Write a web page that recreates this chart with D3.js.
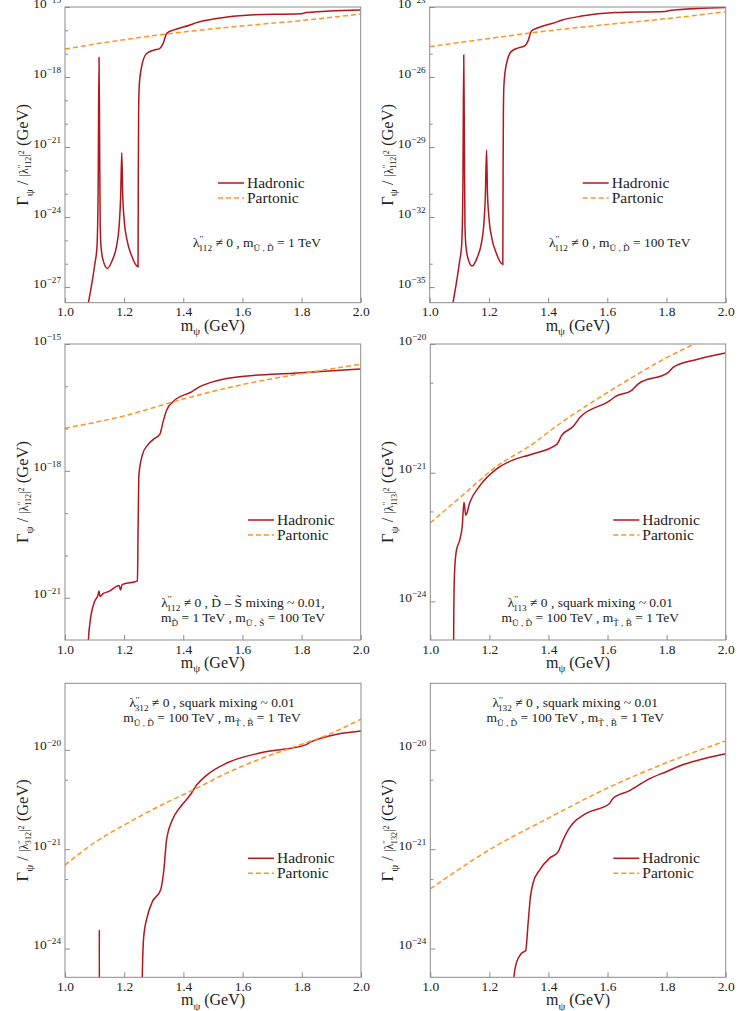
<!DOCTYPE html>
<html>
<head>
<meta charset="utf-8">
<script src="https://cdn.jsdelivr.net/npm/d3@7"></script>
<style>
  body { margin: 0; background: #fff; }
</style>
</head>
<body>
<script>
// mass axis, same for every panel
const massDomain = [1.0, 2.0];
const massTicks = [1.0, 1.2, 1.4, 1.6, 1.8, 2.0];

// curves as [m_psi (GeV), log10(Gamma / |lambda|^2 / GeV)]
const hadronic1 = [[1.074,-28.0],[1.101,-26.0],[1.108,-25.3],[1.112,-23.0],[1.115,-17.16],[1.117,-20.5],[1.119,-24.3],[1.122,-25.3],[1.13,-25.9],[1.143,-26.2],[1.16,-25.85],[1.175,-25.2],[1.183,-24.4],[1.188,-23.2],[1.192,-21.24],[1.195,-23.0],[1.2,-24.1],[1.21,-25.0],[1.225,-25.65],[1.247,-26.13],[1.248,-22.0],[1.249,-19.5],[1.251,-18.4],[1.259,-17.56],[1.276,-16.99],[1.3,-16.85],[1.321,-16.77],[1.332,-16.56],[1.344,-16.13],[1.366,-15.99],[1.423,-15.77],[1.445,-15.67],[1.513,-15.49],[1.626,-15.34],[1.795,-15.29],[1.817,-15.24],[2.0,-15.13]];
const partonic1 = [[1.0,-16.8],[1.2,-16.4],[1.4,-16.07],[1.6,-15.81],[1.8,-15.58],[2.0,-15.3]];

const hadronic2 = [[1.074,-36.0],[1.101,-33.9],[1.108,-33.2],[1.112,-30.9],[1.115,-25.06],[1.117,-28.4],[1.119,-32.3],[1.122,-33.2],[1.13,-33.8],[1.143,-34.1],[1.16,-33.75],[1.175,-33.1],[1.183,-32.3],[1.188,-31.1],[1.192,-29.13],[1.195,-30.9],[1.2,-32.0],[1.21,-32.9],[1.225,-33.55],[1.247,-34.03],[1.248,-29.9],[1.249,-27.4],[1.251,-26.3],[1.259,-25.46],[1.276,-24.9],[1.3,-24.75],[1.321,-24.67],[1.332,-24.46],[1.344,-24.03],[1.366,-23.89],[1.423,-23.67],[1.445,-23.57],[1.513,-23.39],[1.626,-23.24],[1.795,-23.19],[1.817,-23.14],[2.0,-23.02]];
const partonic2 = [[1.0,-24.7],[1.2,-24.35],[1.4,-24.02],[1.6,-23.75],[1.8,-23.5],[2.0,-23.2]];

const hadronic3 = [[1.077,-22.3],[1.08,-21.9],[1.085,-21.56],[1.1,-21.09],[1.111,-20.95],[1.115,-20.84],[1.118,-20.97],[1.13,-20.9],[1.149,-20.85],[1.183,-20.71],[1.188,-20.82],[1.193,-20.69],[1.245,-20.6],[1.247,-19.5],[1.25,-18.09],[1.262,-17.62],[1.279,-17.39],[1.3,-17.25],[1.321,-17.13],[1.332,-16.83],[1.344,-16.56],[1.366,-16.36],[1.428,-16.13],[1.456,-16.01],[1.513,-15.87],[1.626,-15.75],[1.772,-15.69],[2.0,-15.59]];
const partonic3 = [[1.0,-16.99],[1.2,-16.7],[1.4,-16.3],[1.6,-15.96],[1.8,-15.7],[2.0,-15.48]];

const hadronic4 = [[1.0785,-22.5],[1.0795,-22.1],[1.082,-21.78],[1.088,-21.61],[1.1,-21.52],[1.108,-21.42],[1.114,-21.23],[1.12,-21.33],[1.134,-21.23],[1.168,-21.1],[1.225,-20.97],[1.281,-20.9],[1.338,-20.86],[1.428,-20.78],[1.445,-20.71],[1.484,-20.64],[1.507,-20.57],[1.608,-20.44],[1.625,-20.41],[1.682,-20.36],[1.704,-20.31],[1.806,-20.22],[1.823,-20.18],[1.902,-20.12],[2.0,-20.07]];
const partonic4 = [[1.0,-21.39],[1.112,-21.17],[1.225,-20.95],[1.338,-20.79],[1.45,-20.6],[1.563,-20.43],[1.676,-20.27],[1.789,-20.12],[1.902,-19.99],[2.0,-19.88]];

const hadronic5 = [[1.1155,-23.5],[1.116,-21.81],[1.1165,-23.5],[1.258,-23.5],[1.261,-22.3],[1.266,-21.88],[1.278,-21.68],[1.295,-21.53],[1.323,-21.41],[1.334,-21.21],[1.343,-20.91],[1.362,-20.71],[1.391,-20.57],[1.424,-20.45],[1.441,-20.37],[1.481,-20.25],[1.549,-20.13],[1.661,-20.03],[1.813,-19.95],[1.83,-19.92],[2.0,-19.81]];
const partonic5 = [[1.0,-21.16],[1.097,-20.94],[1.21,-20.74],[1.323,-20.56],[1.436,-20.4],[1.549,-20.23],[1.661,-20.09],[1.774,-19.97],[1.887,-19.85],[2.0,-19.69]];

const hadronic6 = [[1.279,-22.5],[1.283,-22.29],[1.291,-22.15],[1.308,-22.05],[1.323,-22.02],[1.331,-21.75],[1.339,-21.48],[1.348,-21.34],[1.37,-21.21],[1.404,-21.09],[1.432,-21.03],[1.449,-20.91],[1.466,-20.81],[1.483,-20.74],[1.528,-20.64],[1.607,-20.54],[1.618,-20.49],[1.675,-20.41],[1.686,-20.39],[1.743,-20.29],[1.799,-20.22],[1.855,-20.15],[1.9,-20.11],[2.0,-20.04]];
const partonic6 = [[1.0,-21.4],[1.198,-21.01],[1.398,-20.69],[1.596,-20.39],[1.799,-20.13],[2.0,-19.91]];

// y axes: log10 range, major ticks and the labels printed on them
const yRange1 = [-27.67, -15], yMajor1 = [-15,-18,-21,-24,-27], yLabels1 = ["−15","−18","−21","−24","−27"];
const yRange2 = [-35.67, -23], yMajor2 = [-23,-26,-29,-32,-35], yLabels2 = ["−23","−26","−29","−32","−35"];
const yRange3 = [-22, -15],    yMajor3 = [-15,-18,-21],         yLabels3 = ["−15","−18","−21"];
const yRange4 = [-22.3, -20],  yMajor4 = [-20,-21,-22],         yLabels4 = ["−20","−21","−24"];
const yRange5 = [-22.29, -19.33], yMajor5 = [-20,-21,-22],      yLabels5 = ["−20","−21","−24"];
const yRange6 = [-22.29, -19.33], yMajor6 = [-20,-21,-22],      yLabels6 = ["−20","−21","−24"];
const yMinorDecades = [-16,-17,-19,-20,-22,-23,-25,-26,-28,-29,-31,-32,-34,-35];
const yMinorFives = [5e-20, 5e-21, 5e-22, 5e-23];

const couplings = ["112", "112", "112", "113", "312", "132"];

const HAD = "#b3161d", PART = "#ff9326", FRAME = "#8c8c8c";
const FONT = "'Liberation Serif', 'Times New Roman', serif";

const lam = c => [["λ"], ["′′", "sup"], [c, "sub", {dx: -5}]];
const notes = [
  [[...lam("112"), ["  ≠ 0 ,  m"], ["Ũ , D̃", "sub"], ["  = 1 TeV"]]],
  [[...lam("112"), ["  ≠ 0 ,  m"], ["Ũ , D̃", "sub"], ["  = 100 TeV"]]],
  [[...lam("112"), ["  ≠ 0 ,  D̃ – S̃  mixing ~ 0.01,"]],
   [["m"], ["D̃", "sub"], ["  = 1 TeV ,  m"], ["Ũ , S̃", "sub"], ["  = 100 TeV"]]],
  [[...lam("113"), ["  ≠ 0 , squark mixing ~ 0.01"]],
   [["m"], ["Ũ , D̃", "sub"], ["  = 100 TeV ,  m"], ["T̃ , B̃", "sub"], ["  = 1 TeV"]]],
  [[...lam("312"), ["  ≠ 0 , squark mixing ~ 0.01"]],
   [["m"], ["Ũ , D̃", "sub"], ["  = 100 TeV ,  m"], ["T̃ , B̃", "sub"], ["  = 1 TeV"]]],
  [[...lam("132"), ["  ≠ 0 , squark mixing ~ 0.01"]],
   [["m"], ["Ũ , D̃", "sub"], ["  = 100 TeV ,  m"], ["T̃ , B̃", "sub"], ["  = 1 TeV"]]]
];

const panels = [
  {l: 65,    r: 360.7, t: 7,     b: 302.7, yr: yRange1, maj: yMajor1, lab: yLabels1, minor: yMinorDecades, had: hadronic1, par: partonic1, leg: [153, 176], note: [192, 240]},
  {l: 429.7, r: 725.7, t: 7,     b: 302.7, yr: yRange2, maj: yMajor2, lab: yLabels2, minor: yMinorDecades, had: hadronic2, par: partonic2, leg: [153, 176], note: [190, 240]},
  {l: 65,    r: 360.7, t: 344,   b: 640,   yr: yRange3, maj: yMajor3, lab: yLabels3, minor: yMinorDecades, had: hadronic3, par: partonic3, leg: [183, 176], note: [178, 263]},
  {l: 430.3, r: 725.7, t: 344,   b: 640,   yr: yRange4, maj: yMajor4, lab: yLabels4, minor: null, had: hadronic4, par: partonic4, leg: [183, 176], note: [160, 263]},
  {l: 65,    r: 361,   t: 683.3, b: 977.3, yr: yRange5, maj: yMajor5, lab: yLabels5, minor: null, had: hadronic5, par: partonic5, leg: [183, 175], note: [147, 24]},
  {l: 430.3, r: 725.7, t: 683.3, b: 977.3, yr: yRange6, maj: yMajor6, lab: yLabels6, minor: null, had: hadronic6, par: partonic6, leg: [183, 175], note: [145, 24]}
];

// text with sub/superscripts, parts = [string, kind, {s, dx}]
function rich(sel, parts, size) {
  let base = 0;
  parts.forEach(([str, kind = "n", opt = {}]) => {
    const s = opt.s || size;
    const off = kind === "sub" ? 0.28 * s : kind === "sup" ? -0.34 * s : 0;
    const ts = sel.append("tspan")
      .attr("font-size", kind === "n" ? s : s * 0.68)
      .attr("dy", off - base)
      .text(str);
    if (opt.dx) ts.attr("dx", opt.dx);
    base = off;
  });
}

const svg = d3.select("body").append("svg")
  .attr("width", 747)
  .attr("height", 1011)
  .attr("font-family", FONT)
  .style("white-space", "pre");

panels.forEach((p, i) => {
  const x = d3.scaleLinear().domain(massDomain).range([p.l, p.r]);
  const y = d3.scaleLog().domain([10 ** p.yr[0], 10 ** p.yr[1]]).range([p.b, p.t]);
  const g = svg.append("g");

  g.append("clipPath").attr("id", "clip" + i)
    .append("rect").attr("x", p.l).attr("y", p.t).attr("width", p.r - p.l).attr("height", p.b - p.t);

  const line = d3.line()
    .x(d => x(d[0]))
    .y(d => y(10 ** d[1]))
    .curve(d3.curveMonotoneX);

  const plot = g.append("g").attr("clip-path", `url(#clip${i})`);
  plot.append("path").datum(p.had)
    .attr("d", line).attr("fill", "none")
    .attr("stroke", HAD).attr("stroke-width", 1.5);
  plot.append("path").datum(p.par)
    .attr("d", line).attr("fill", "none")
    .attr("stroke", PART).attr("stroke-width", 1.5).attr("stroke-dasharray", "5,3");

  // x axis
  const gx = g.append("g")
    .attr("transform", `translate(0,${p.b})`)
    .call(d3.axisBottom(x).tickValues(massTicks).tickFormat(d3.format(".1f")).tickSize(-5).tickPadding(4))
    .attr("font-family", FONT).attr("font-size", 13.5);
  gx.select(".domain").remove();
  gx.selectAll("line").attr("stroke", FRAME);
  gx.selectAll("text").attr("fill", "#222");

  // y axis, minor then major
  const minorVals = p.minor
    ? p.minor.filter(e => e > p.yr[0] && e < p.yr[1]).map(e => 10 ** e)
    : yMinorFives.filter(v => Math.log10(v) > p.yr[0] && Math.log10(v) < p.yr[1]);
  const gm = g.append("g")
    .attr("transform", `translate(${p.l},0)`)
    .call(d3.axisLeft(y).tickValues(minorVals).tickFormat("").tickSize(-3));
  gm.select(".domain").remove();
  gm.selectAll("line").attr("stroke", FRAME);

  const gy = g.append("g")
    .attr("transform", `translate(${p.l},0)`)
    .call(d3.axisLeft(y).tickValues(p.maj.map(e => 10 ** e)).tickSize(-5).tickPadding(4).tickFormat(""))
    .attr("font-family", FONT);
  gy.select(".domain").remove();
  gy.selectAll("line").attr("stroke", FRAME);
  gy.selectAll("text").each(function(d, k) {
    const t = d3.select(this).attr("fill", "#222").attr("dy", "0.45em");
    rich(t, [["10"], [p.lab[k], "sup"]], 13.5);
  });

  // frame
  g.append("rect")
    .attr("x", p.l).attr("y", p.t)
    .attr("width", p.r - p.l).attr("height", p.b - p.t)
    .attr("fill", "none").attr("stroke", FRAME).attr("stroke-width", 1);

  // axis titles
  const xt = g.append("text")
    .attr("x", (p.l + p.r) / 2).attr("y", p.b + 28)
    .attr("text-anchor", "middle").attr("fill", "#222");
  rich(xt, [["m"], ["ψ", "sub"], ["  (GeV)"]], 16);

  const yt = g.append("text")
    .attr("transform", `translate(${p.l - 37},${(p.t + p.b) / 2}) rotate(-90)`)
    .attr("text-anchor", "middle").attr("fill", "#222");
  rich(yt, [["Γ"], ["ψ", "sub"], [" /  "], ["|λ", "n", {s: 12}], ["′′", "sup", {s: 12}],
    [couplings[i], "sub", {s: 12, dx: -4}], ["|", "n", {s: 12}], ["2", "sup", {s: 12}], ["  (GeV)"]], 16.5);

  // legend
  const lx = p.l + p.leg[0], ly = p.t + p.leg[1];
  [["Hadronic", HAD, null], ["Partonic", PART, "5,3"]].forEach(([name, col, dash], k) => {
    g.append("line")
      .attr("x1", lx).attr("x2", lx + 26)
      .attr("y1", ly + k * 15).attr("y2", ly + k * 15)
      .attr("stroke", col).attr("stroke-width", 1.5)
      .attr("stroke-dasharray", dash);
    g.append("text")
      .attr("x", lx + 29).attr("y", ly + k * 15 + 5)
      .attr("font-size", 15.5).attr("fill", "#222")
      .text(name);
  });

  // parameter note
  notes[i].forEach((parts, k) => {
    const nt = g.append("text")
      .attr("x", p.l + p.note[0]).attr("y", p.t + p.note[1] + k * 15)
      .attr("text-anchor", "middle").attr("fill", "#222");
    rich(nt, parts, 13.5);
  });
});
</script>
</body>
</html>
